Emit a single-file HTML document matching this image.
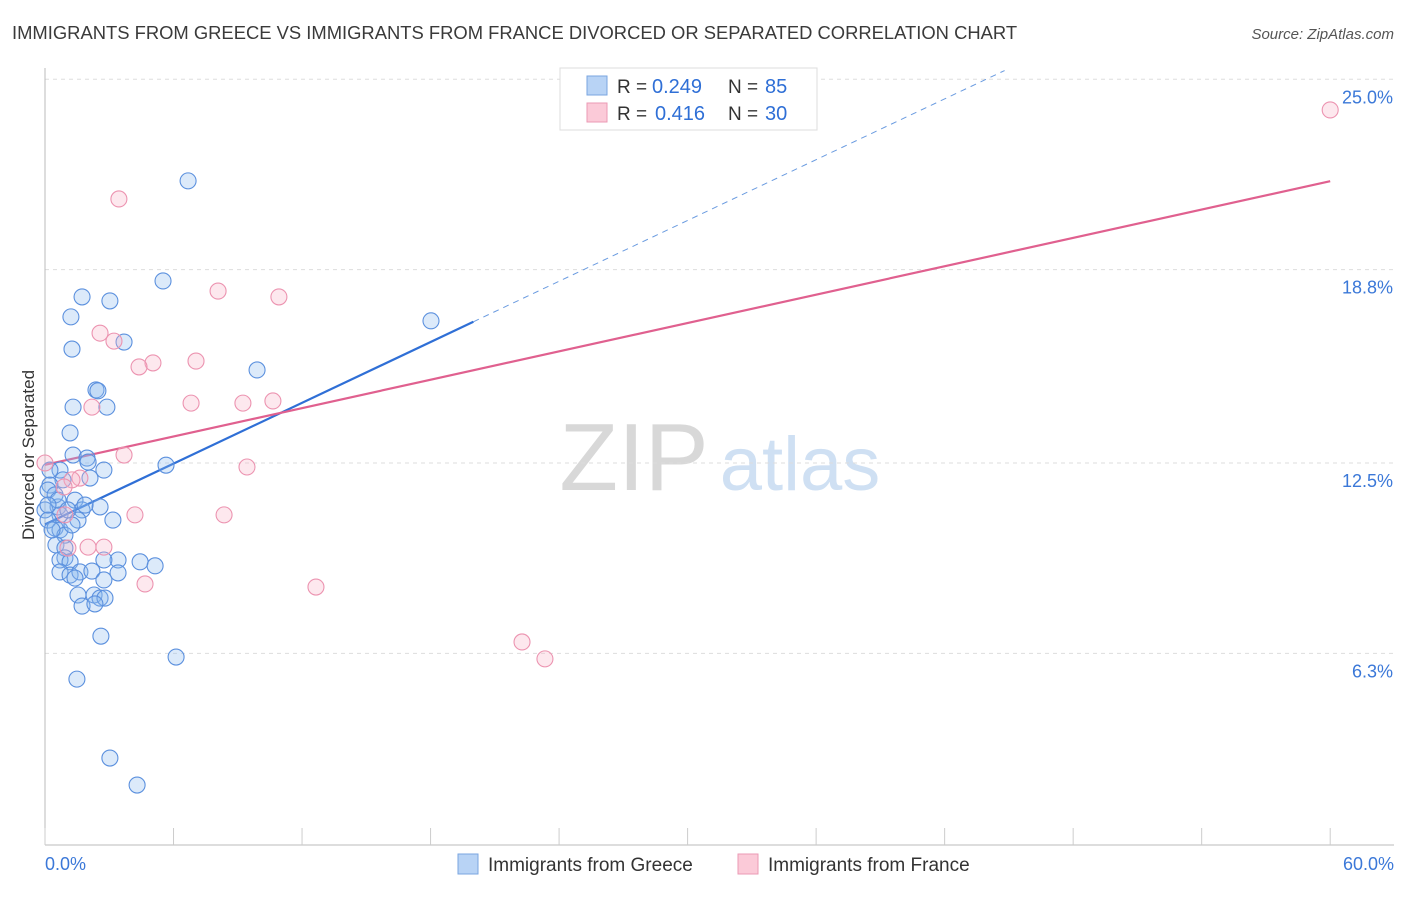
<!DOCTYPE html>
<html><head><meta charset="utf-8"><style>
body{margin:0;background:#fff;font-family:"Liberation Sans",sans-serif;}
svg text{font-family:"Liberation Sans",sans-serif;}
</style></head><body>
<svg id="chart" width="1406" height="892" xmlns="http://www.w3.org/2000/svg">
<text x="12" y="39" font-size="18.4" fill="#3a3a3a">IMMIGRANTS FROM GREECE VS IMMIGRANTS FROM FRANCE DIVORCED OR SEPARATED CORRELATION CHART</text>
<text x="1394" y="39" font-size="15" fill="#555" font-style="italic" text-anchor="end">Source: ZipAtlas.com</text>
<g>
<text x="634" y="490" font-size="96" fill="#d8d8d8" font-family="Liberation Serif,serif" text-anchor="middle">ZIP</text>
<text x="800" y="490" font-size="76" fill="#cfe0f3" text-anchor="middle">atlas</text>
</g>
<g id="grid"></g><g id="axes"></g><g id="lines"></g><g id="pts"></g>
<text transform="translate(34,455) rotate(-90)" font-size="17" fill="#333" text-anchor="middle">Divorced or Separated</text>
<g>
<rect x="560" y="68" width="257" height="62" fill="#fff" stroke="#ddd"/>
<rect x="587" y="76" width="20" height="19" fill="#b8d3f5" stroke="#7aa6e0"/>
<rect x="587" y="103" width="20" height="19" fill="#fbcad8" stroke="#eb9ab4"/>
<text x="617" y="93" font-size="19" fill="#333">R =</text>
<text x="652" y="93" font-size="20" fill="#2f6fd6">0.249</text>
<text x="728" y="93" font-size="19" fill="#333">N =</text>
<text x="765" y="93" font-size="20" fill="#2f6fd6">85</text>
<text x="617" y="120" font-size="19" fill="#333">R =</text>
<text x="655" y="120" font-size="20" fill="#2f6fd6">0.416</text>
<text x="728" y="120" font-size="19" fill="#333">N =</text>
<text x="765" y="120" font-size="20" fill="#2f6fd6">30</text>
</g>
<g>
<rect x="458" y="854" width="20" height="20" fill="#b8d3f5" stroke="#7aa6e0"/>
<text x="488" y="871" font-size="19" fill="#333">Immigrants from Greece</text>
<rect x="738" y="854" width="20" height="20" fill="#fbcad8" stroke="#eb9ab4"/>
<text x="768" y="871" font-size="19" fill="#333">Immigrants from France</text>
</g>
</svg>
<script>
const yTicks=[6.3,12.5,18.8,25.0];
const yTickLabels=["6.3%","12.5%","18.8%","25.0%"];
const xTickLabels=["0.0%","60.0%"];
const greeceX=[6.68,5.51,1.73,3.03,1.21,18.02,1.26,3.69,9.90,2.38,2.47,1.31,2.89,1.17,5.65,1.31,1.96,2.01,2.75,0.70,0.84,0.23,0.14,1.40,1.73,0.61,2.57,0,0.70,0.14,1.54,3.17,0.47,0.70,0.93,0.51,0.93,0.93,0.70,1.17,3.41,2.75,4.44,5.14,0.70,1.17,1.63,2.19,3.41,1.40,2.75,1.54,2.29,2.57,2.80,1.73,2.33,2.61,6.12,1.49,3.03,4.30,0.23,0.47,0.61,1.07,1.26,1.87,2.10,0.14,0.33];
const greeceY=[21.69,18.43,17.91,17.78,17.26,17.13,16.21,16.44,15.53,14.88,14.85,14.32,14.32,13.48,12.43,12.76,12.66,12.53,12.27,12.27,11.95,11.78,11.62,11.29,10.97,11.07,11.07,10.97,10.81,10.64,10.64,10.64,10.38,10.32,10.15,9.83,9.73,9.41,9.34,9.28,9.34,9.34,9.28,9.15,8.95,8.85,8.95,8.98,8.92,8.75,8.69,8.20,8.20,8.10,8.10,7.84,7.91,6.86,6.18,5.46,2.89,2.01,12.27,11.46,11.29,10.97,10.48,11.13,12.01,11.13,10.32];
const franceX=[60.0,31.28,3.45,8.08,10.92,2.57,3.22,5.04,4.39,7.05,6.82,9.24,10.64,2.19,3.69,9.43,0,1.63,1.26,0.89,0.93,4.20,8.36,2.01,2.75,1.07,4.67,12.65,22.27,23.34];
const franceY=[24.0,24.98,21.10,18.10,17.91,16.73,16.47,15.76,15.63,15.82,14.45,14.45,14.52,14.32,12.76,12.37,12.5,12.01,11.95,11.72,10.81,10.81,10.81,9.76,9.76,9.73,8.56,8.46,6.67,6.12];
const greeceTrend=[10.5,0.33];
const franceTrend=[12.44,0.154];

const NS="http://www.w3.org/2000/svg";
const sx=v=>45+v*21.42;
const sy=v=>463-(v-12.5)*30.7;
function mk(tag,attrs,parent){const e=document.createElementNS(NS,tag);for(const k in attrs)e.setAttribute(k,attrs[k]);document.getElementById(parent).appendChild(e);return e;}

yTicks.forEach((t,i)=>{
  const l=mk('line',{x1:45,x2:1394,y1:sy(t),y2:sy(t),stroke:'#ddd','stroke-dasharray':'4,4'},'grid');
  
  
  const tx=mk('text',{x:1393,y:sy(t)+24,'font-size':18,fill:'#3b78d8','text-anchor':'end'},'grid');
  tx.textContent=yTickLabels[i];
  
  
});
const ax=mk('line',{x1:45,x2:1394,y1:845,y2:845,stroke:'#bbb'},'axes');


const ay=mk('line',{x1:45,x2:45,y1:68,y2:845,stroke:'#bbb'},'axes');


for(let i=0;i<=10;i++){
  const t=mk('line',{x1:sx(i*6),x2:sx(i*6),y1:828,y2:845,stroke:'#ccc'},'axes');
  
  
}
[[0,'start',45],[60,'end',1394]].forEach((d,i)=>{
  const t=mk('text',{x:d[2],y:870,'font-size':18,fill:'#3b78d8','text-anchor':d[1]},'axes');
  t.textContent=xTickLabels[i];
  
  
});
const g1=mk('line',{x1:sx(0),y1:sy(greeceTrend[0]),x2:sx(20),y2:sy(greeceTrend[0]+20*greeceTrend[1]),stroke:'#2f6fd6','stroke-width':2.2},'lines');


const g2=mk('line',{x1:sx(20),y1:sy(greeceTrend[0]+20*greeceTrend[1]),x2:sx(44.8),y2:sy(greeceTrend[0]+44.8*greeceTrend[1]),stroke:'#6a9be0','stroke-width':1,'stroke-dasharray':'6,5'},'lines');


const f1=mk('line',{x1:sx(0),y1:sy(franceTrend[0]),x2:sx(60),y2:sy(franceTrend[0]+60*franceTrend[1]),stroke:'#e0608f','stroke-width':2.2},'lines');


greeceX.forEach((x,i)=>{
  const c=mk('circle',{cx:sx(x),cy:sy(greeceY[i]),r:8,fill:'rgba(140,185,240,0.3)',stroke:'#5b90de','stroke-width':1.1},'pts');
  
  
});
franceX.forEach((x,i)=>{
  const c=mk('circle',{cx:sx(x),cy:sy(franceY[i]),r:8,fill:'rgba(248,180,200,0.3)',stroke:'#ec93b0','stroke-width':1.1},'pts');
  
  
});
</script>
</body></html>
